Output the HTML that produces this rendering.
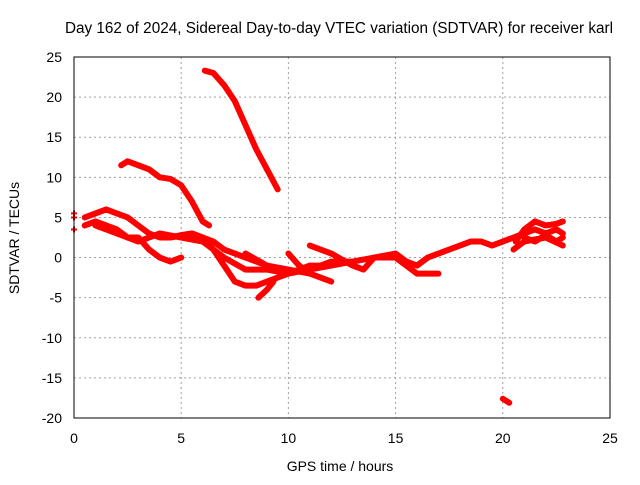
<!DOCTYPE html>
<html><head><meta charset="utf-8"><style>
body{margin:0;background:#fff}
svg{font-family:"Liberation Sans",sans-serif;font-size:14px}
</style></head><body>
<svg id="chart" width="640" height="480">
<text x="339" y="33" text-anchor="middle" font-size="15.3">Day 162 of 2024, Sidereal Day-to-day VTEC variation (SDTVAR) for receiver karl</text>
<g id="grid"></g><g id="axes"></g><g id="marks"></g>
<rect x="74" y="57" width="536" height="361" fill="none" stroke="#000"/>
<text x="340" y="471" text-anchor="middle">GPS time / hours</text>
<text transform="translate(19,238) rotate(-90)" text-anchor="middle">SDTVAR / TECUs</text>
</svg>
<script>
const xTicks=[0,5,10,15,20,25];
const yTicks=[25,20,15,10,5,0,-5,-10,-15,-20];
const trackA=[[0.5,5],[1,5.5],[1.5,6],[2,5.5],[2.5,5],[3,4],[3.5,3],[4,2.5],[4.5,2.5],[5,2.8],[5.5,3],[6,2.5],[6.5,1],[7,-1],[7.5,-3],[8,-3.5],[8.5,-3.5],[9,-3],[9.5,-2.5],[10,-2],[10.5,-1.5],[11,-1],[11.5,-1],[12,-0.5],[13,-0.5],[14,0],[15,0.5],[15.5,-0.5],[16,-1],[16.5,0],[17,0.5],[17.5,1],[18,1.5],[18.5,2],[19,2],[19.5,1.5],[20,2],[20.5,2.5],[21,3],[21.5,3.5],[22,3],[22.5,3.5],[22.8,3]];
const trackB=[[0.5,4],[1,4.5],[1.5,4],[2,3.5],[2.5,2.5],[3,2.5],[3.5,1],[4,0],[4.5,-0.5],[5,0]];
const trackC=[[1,4],[2,3],[3,2],[4,3],[5,2.5],[6,2],[7,0],[8,-1.5],[9,-1.5],[10,-2],[11,-1.5],[12,-1],[13,-0.5]];
const trackD=[[4.5,2.5],[5.5,3],[6.5,2],[7,1],[8,0],[9,-1],[10,-1.5],[11,-2],[11.5,-2.5],[12,-3]];
const trackE=[[11,1.5],[12,0.5],[13,-1],[13.5,-1.5],[14,0],[15,0],[15.5,-1],[16,-2],[17,-2]];
const trackF=[[20.5,1],[21,2],[22,2.5],[22.8,1.5]];
const trackJ=[[20.6,2],[21,3.5],[21.5,4.5],[22,4],[22.5,4.2],[22.8,4.5]];
const trackK=[[21,2.5],[21.5,2],[22,2.8],[22.5,2],[22.8,2.5]];
const trackG=[[8.6,-5],[9,-4],[9.3,-3]];
const trackH=[[8,0.5],[9,-1],[10,-2]];
const trackI=[[10,0.5],[10.5,-1],[11,-2]];
const trackSteep=[[6.1,23.3],[6.5,23],[7,21.5],[7.5,19.5],[8,16.5],[8.5,13.5],[9,11],[9.5,8.5]];
const trackUpper=[[2.2,11.5],[2.5,12],[3,11.5],[3.5,11],[4,10],[4.5,9.8],[5,9],[5.5,7],[6,4.5],[6.3,4]];
const trackLow=[[20,-17.6],[20.3,-18.1]];
const leftPts=[[0,5.5],[0,5],[0,3.5]];
const tracks=[trackA,trackB,trackC,trackD,trackE,trackF,trackJ,trackK,trackG,trackH,trackI,trackSteep,trackUpper,trackLow];
const X=v=>74+v*536/25, Y=v=>418-(v+20)*361/45;
const NS="http://www.w3.org/2000/svg";
const grid=document.getElementById('grid'),axes=document.getElementById('axes'),marks=document.getElementById('marks');
function mk(tag,attrs,parent){const e=document.createElementNS(NS,tag);for(const k in attrs)e.setAttribute(k,attrs[k]);parent.appendChild(e);return e;}
xTicks.forEach(t=>{
  if(t>0&&t<25){const l=mk('line',{x1:X(t),x2:X(t),y1:57,y2:418,stroke:'#a0a0a0','stroke-dasharray':'2,3'},grid);
  
  }
  const tx=mk('text',{x:X(t),y:443,'text-anchor':'middle'},axes);tx.textContent=t;
  
  
});
yTicks.forEach(t=>{
  if(t<25&&t>-20){const l=mk('line',{x1:74,x2:610,y1:Y(t),y2:Y(t),stroke:'#a0a0a0','stroke-dasharray':'2,3'},grid);
  
  }
  const tx=mk('text',{x:62,y:Y(t)+5,'text-anchor':'end'},axes);tx.textContent=t;
  
  
});
tracks.forEach(tr=>{
  const p=mk('polyline',{points:tr.map(d=>X(d[0])+','+Y(d[1])).join(' '),fill:'none',stroke:'#ff0000','stroke-width':6,'stroke-linejoin':'round','stroke-linecap':'round'},marks);
  
  
});
leftPts.forEach(d=>{
  const p=mk('path',{d:`M${X(d[0])-3},${Y(d[1])}h6M${X(d[0])},${Y(d[1])-3}v6`,stroke:'#ff0000','stroke-width':2},marks);
  
  
});
</script>
</body></html>
